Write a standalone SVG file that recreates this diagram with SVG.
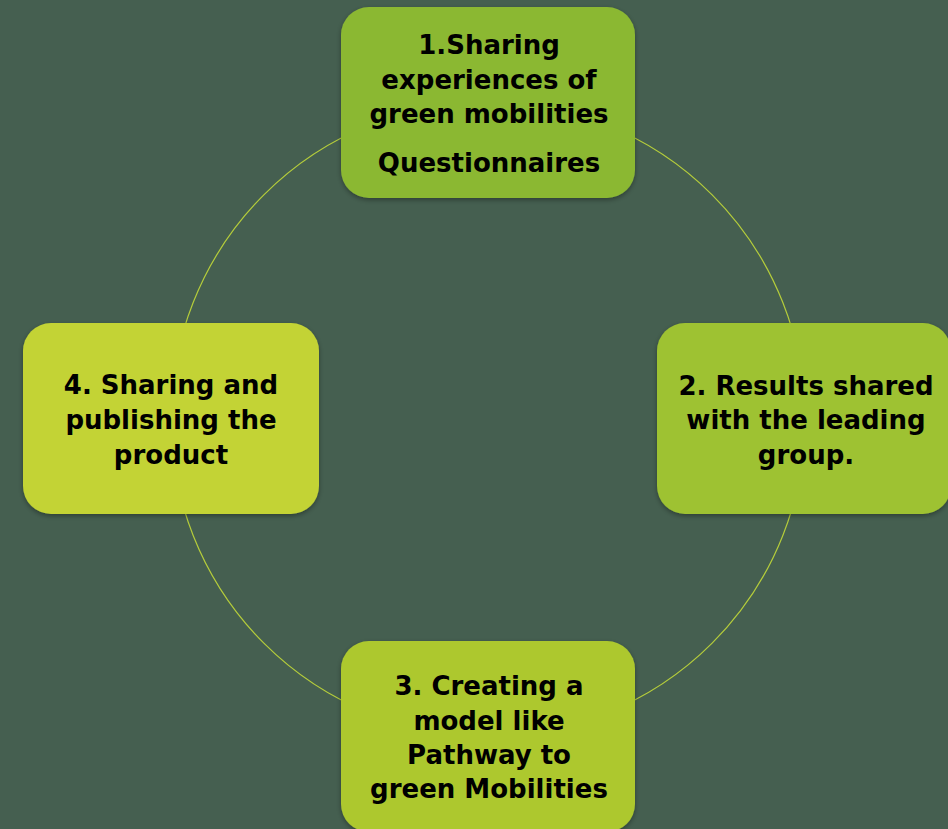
<svg xmlns="http://www.w3.org/2000/svg" width="948" height="829" viewBox="0 0 948 829">
<defs>
<filter id="sh" x="-10%" y="-10%" width="120%" height="125%">
<feDropShadow dx="0" dy="2" stdDeviation="2.5" flood-color="#000" flood-opacity="0.35"/>
</filter>
<style>
.n{filter:url(#sh);}
.t{font-family:"DejaVu Sans","Liberation Sans",sans-serif;font-weight:bold;font-size:26px;fill:#000;text-anchor:middle;}
.c{fill:none;stroke:#B5CD3B;stroke-width:1.2;}
</style>
</defs>
<rect width="948" height="829" fill="#455F50"/>
<g id="connectors">
<circle class="c" cx="488" cy="419" r="317"/>
</g>
<g id="node1">
<rect class="n" x="341" y="7" width="294" height="191" rx="28" fill="#8BB833"/>
<text class="t" x="489" y="54">1.Sharing</text>
<text class="t" x="489" y="89">experiences of</text>
<text class="t" x="489" y="123">green mobilities</text>
<text class="t" x="489" y="172">Questionnaires</text>
</g>
<g id="node2">
<rect class="n" x="657" y="323" width="294" height="191" rx="28" fill="#9EC231"/>
<text class="t" x="806" y="395">2. Results shared</text>
<text class="t" x="806" y="429">with the leading</text>
<text class="t" x="806" y="464">group.</text>
</g>
<g id="node3">
<rect class="n" x="341" y="641" width="294" height="191" rx="28" fill="#ADC82F"/>
<text class="t" x="489" y="695">3. Creating a</text>
<text class="t" x="489" y="730">model like</text>
<text class="t" x="489" y="764">Pathway to</text>
<text class="t" x="489" y="798">green Mobilities</text>
</g>
<g id="node4">
<rect class="n" x="23" y="323" width="296" height="191" rx="28" fill="#C3D335"/>
<text class="t" x="171" y="394">4. Sharing and</text>
<text class="t" x="171" y="429">publishing the</text>
<text class="t" x="171" y="464">product</text>
</g>
</svg>
